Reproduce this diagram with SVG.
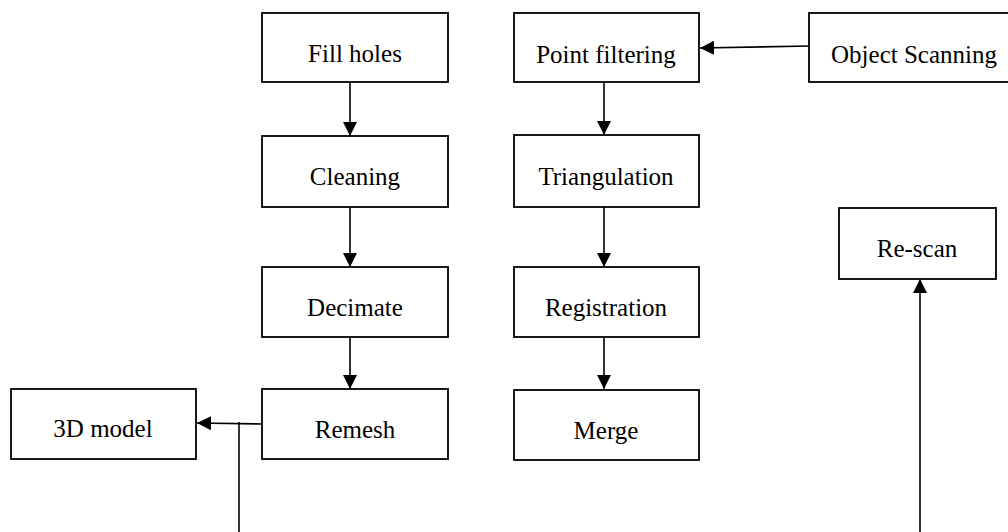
<svg xmlns="http://www.w3.org/2000/svg" width="1008" height="532" viewBox="0 0 1008 532">
<style>
.box{fill:#fff;stroke:#000;stroke-width:1.8}
.lbl{font-family:"Liberation Serif","Times New Roman",serif;font-size:25px;fill:#000;text-anchor:middle}
.c{fill:none;stroke:#000;stroke-width:1.6}
</style>
<defs>
<marker id="ah" viewBox="0 0 14 14" refX="14" refY="7" markerWidth="14" markerHeight="14" markerUnits="userSpaceOnUse" orient="auto">
<path d="M0,0 L14,7 L0,14 Z" fill="#000"/>
</marker>
</defs>
<rect width="1008" height="532" fill="#fff"/>
<g id="connectors">
<line class="c" x1="350" y1="82" x2="350" y2="136" marker-end="url(#ah)"/>
<line class="c" x1="350" y1="207" x2="350" y2="267" marker-end="url(#ah)"/>
<line class="c" x1="350" y1="337" x2="350" y2="389" marker-end="url(#ah)"/>
<line class="c" x1="604" y1="82" x2="604" y2="135" marker-end="url(#ah)"/>
<line class="c" x1="604" y1="207" x2="604" y2="267" marker-end="url(#ah)"/>
<line class="c" x1="604" y1="337" x2="604" y2="389" marker-end="url(#ah)"/>
<line class="c" x1="809" y1="46" x2="700" y2="48" marker-end="url(#ah)"/>
<line class="c" x1="262" y1="424" x2="197" y2="423" marker-end="url(#ah)"/>
<line class="c" x1="239" y1="422" x2="239" y2="532"/>
<line class="c" x1="920" y1="532" x2="920" y2="279" stroke-width="2" marker-end="url(#ah)"/>
</g>
<g id="fill-holes"><rect class="box" x="262" y="13" width="186" height="69"/><text class="lbl" x="355" y="62">Fill holes</text></g>
<g id="cleaning"><rect class="box" x="262" y="136" width="186" height="71"/><text class="lbl" x="355" y="185">Cleaning</text></g>
<g id="decimate"><rect class="box" x="262" y="267" width="186" height="70"/><text class="lbl" x="355" y="316">Decimate</text></g>
<g id="remesh"><rect class="box" x="262" y="389" width="186" height="70"/><text class="lbl" x="355" y="438">Remesh</text></g>
<g id="model3d"><rect class="box" x="11" y="389" width="185" height="70"/><text class="lbl" x="103" y="437">3D model</text></g>
<g id="point-filtering"><rect class="box" x="514" y="13" width="185" height="69"/><text class="lbl" x="606" y="63">Point filtering</text></g>
<g id="triangulation"><rect class="box" x="514" y="135" width="185" height="72"/><text class="lbl" x="606" y="185">Triangulation</text></g>
<g id="registration"><rect class="box" x="514" y="267" width="185" height="70"/><text class="lbl" x="606" y="316">Registration</text></g>
<g id="merge"><rect class="box" x="514" y="390" width="185" height="70"/><text class="lbl" x="606" y="439">Merge</text></g>
<g id="object-scanning"><rect class="box" x="809" y="13" width="215" height="69"/><text class="lbl" x="914" y="63">Object Scanning</text></g>
<g id="re-scan"><rect class="box" x="839" y="208" width="157" height="71"/><text class="lbl" x="917" y="257">Re-scan</text></g>
</svg>
